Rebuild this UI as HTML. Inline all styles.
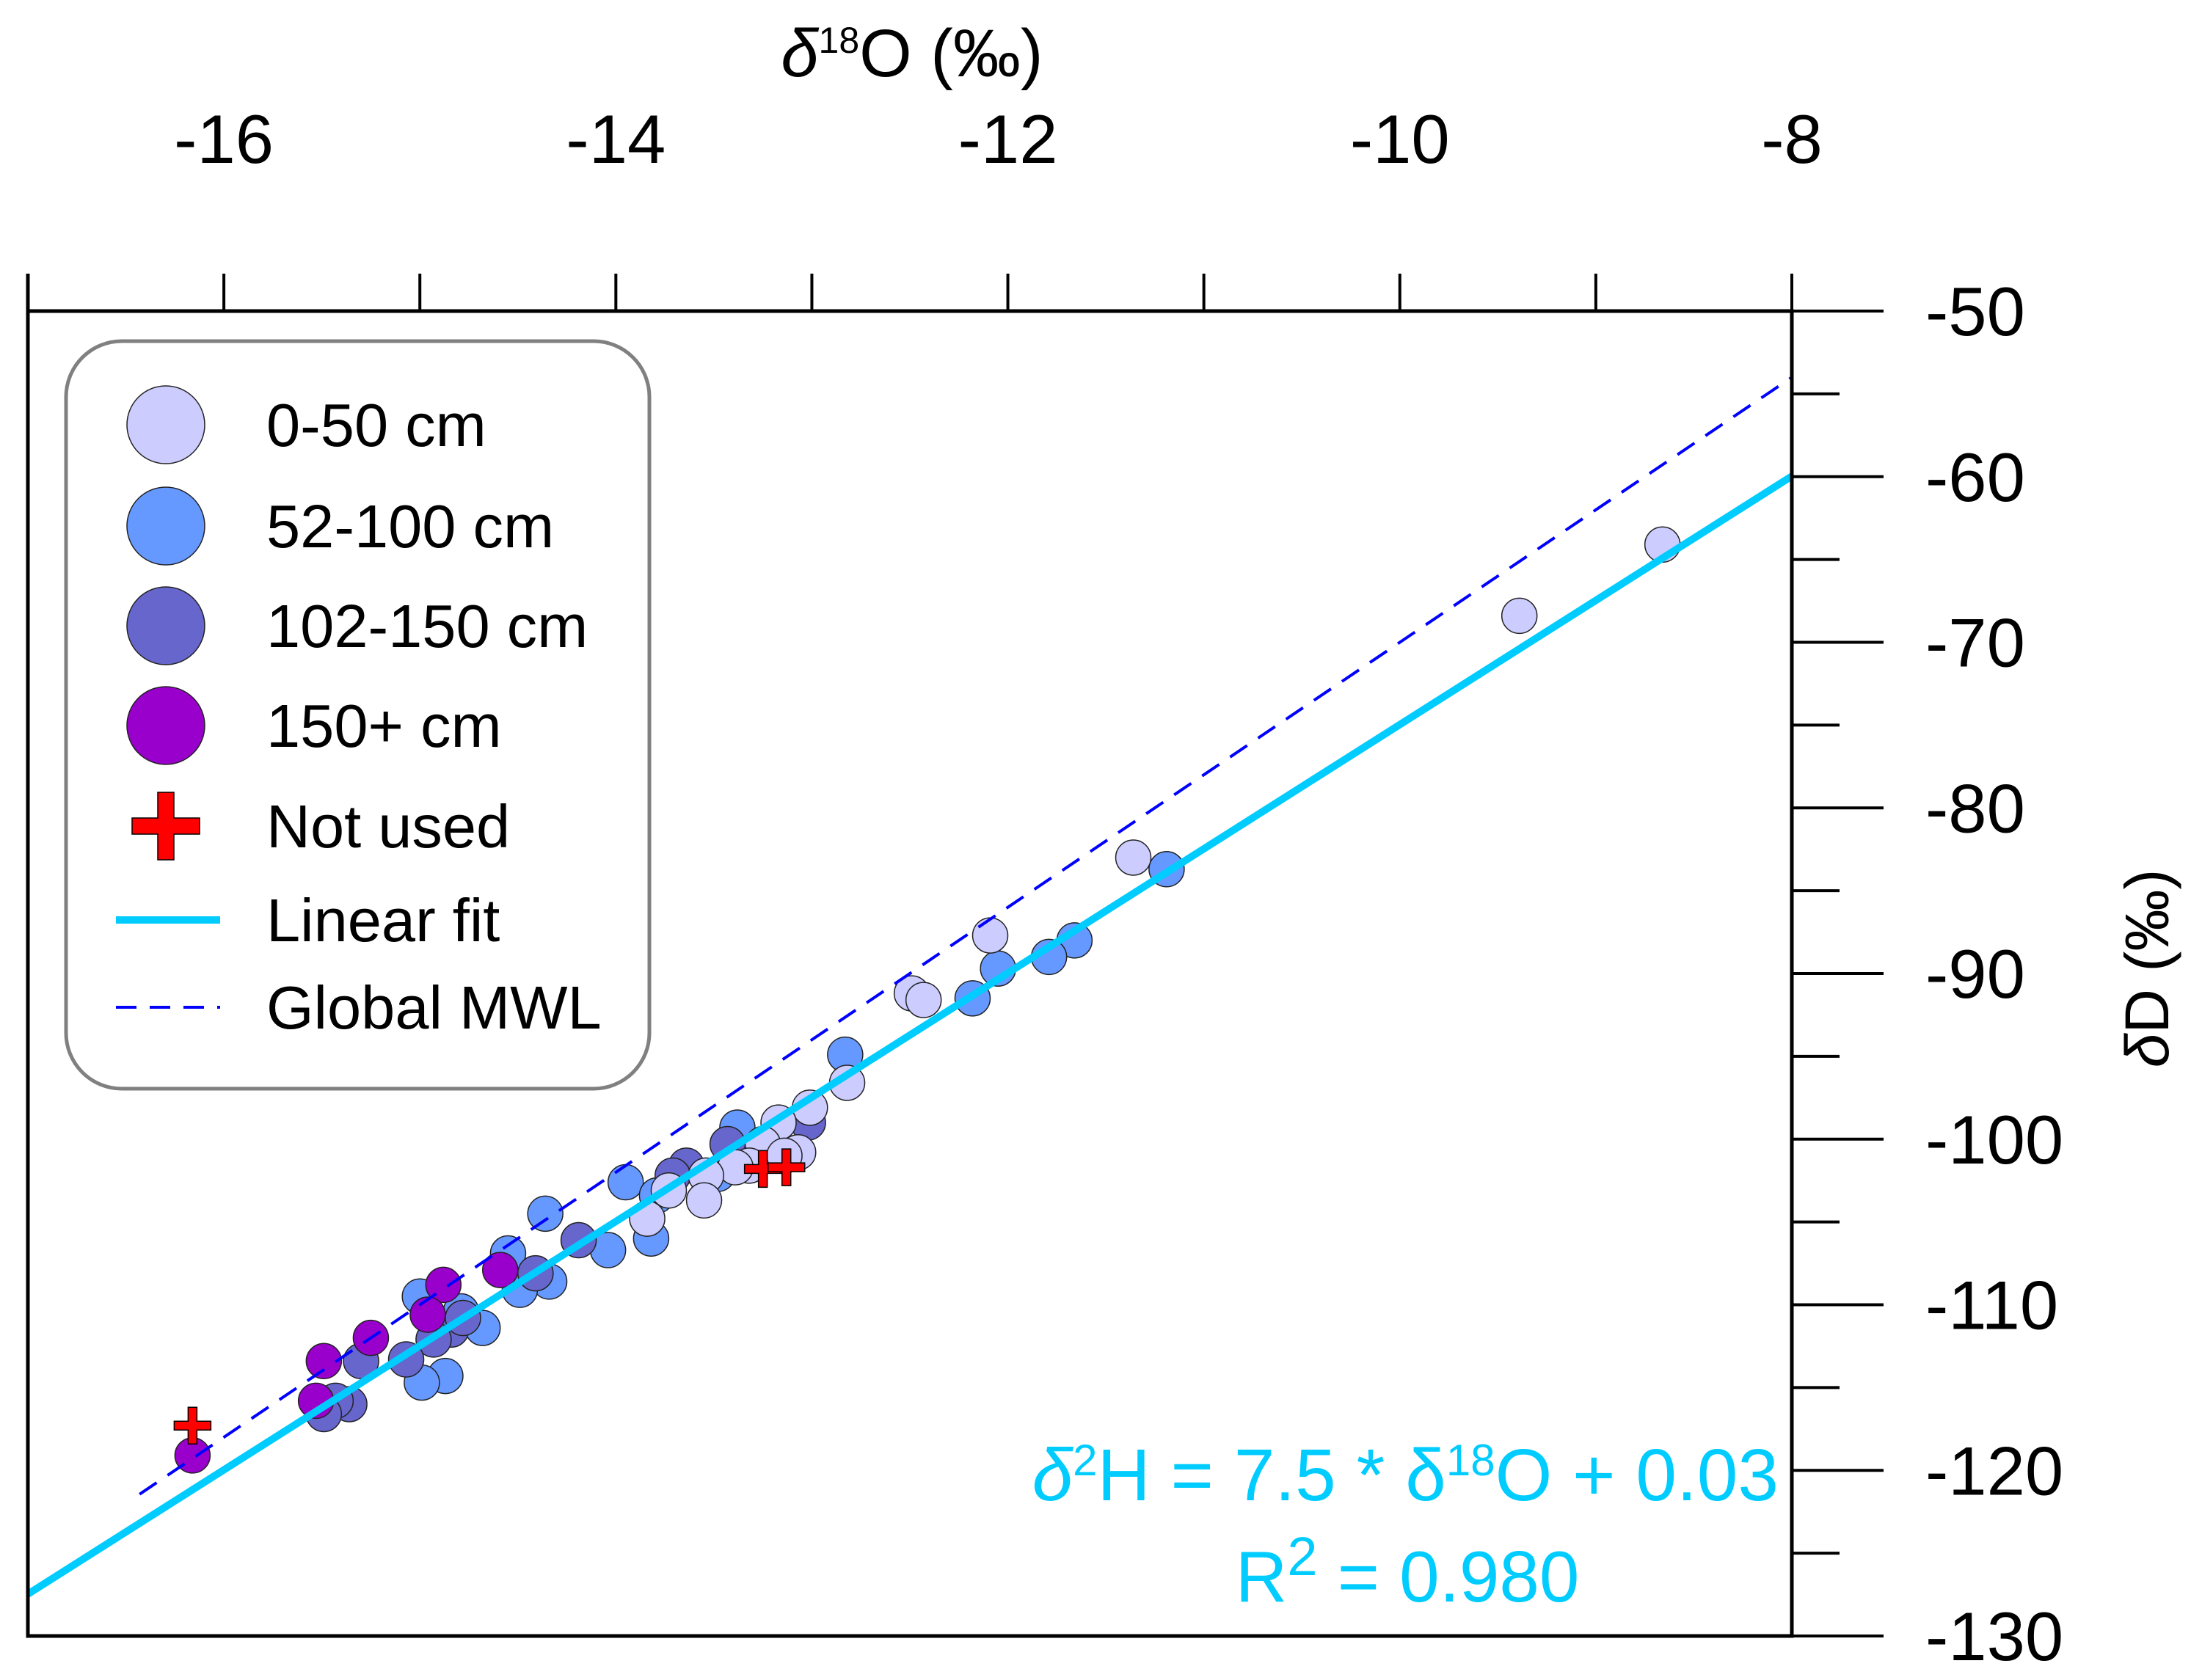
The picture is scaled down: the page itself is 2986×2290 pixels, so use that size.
<!DOCTYPE html>
<html><head><meta charset="utf-8"><style>
html,body{margin:0;padding:0;background:#fff}
svg{display:block}
text{font-family:"Liberation Sans",sans-serif}
</style></head><body>
<svg id="chart" width="2986" height="2290" viewBox="0 0 2986 2290" xmlns="http://www.w3.org/2000/svg">
<g id="points"></g>
<g id="lines"></g>
<g id="crosses"></g>
<g id="axes"></g>
<g id="legend">
  <rect x="90" y="465" width="795" height="1019" rx="76" ry="76" fill="#fff" stroke="#808080" stroke-width="5"/>
</g>
<text x="2424" y="2045" text-anchor="end" font-size="100" fill="#00ccff"><tspan font-style="italic">δ</tspan><tspan font-size="60" dy="-34">2</tspan><tspan dy="34">H = 7.5 * δ</tspan><tspan font-size="60" dy="-34">18</tspan><tspan dy="34">O + 0.03</tspan></text>
<text x="1918" y="2183" text-anchor="middle" font-size="98" fill="#00ccff">R<tspan font-size="74" dy="-36">2</tspan><tspan dy="36"> = 0.980</tspan></text>
<text x="1243" y="104" text-anchor="middle" font-size="92"><tspan font-style="italic">δ</tspan><tspan font-size="50" dy="-32">18</tspan><tspan dy="32">O (‰)</tspan></text>
<text transform="translate(2955,1320) rotate(-90)" text-anchor="middle" font-size="84"><tspan font-style="italic">δ</tspan>D (‰)</text>
</svg>
<script>
const xTicks=[-16,-14,-12,-10,-8];
const yTicks=[-50,-60,-70,-80,-90,-100,-110,-120,-130];
const lightX=[-8.66,-9.39,-11.36,-12.09,-12.49,-12.43,-12.82,-13.01,-13.17,-13.25,-13.32,-13.39,-13.54,-13.73,-13.55,-13.84,-13.07,-13.14];
const lightY=[-64.1,-68.4,-83.0,-87.7,-91.2,-91.6,-96.6,-98.1,-99.0,-100.3,-101.6,-101.7,-102.2,-103.1,-103.7,-104.8,-100.8,-101.0];
const medX=[-11.19,-11.66,-11.79,-12.05,-12.18,-12.83,-13.38,-13.95,-14.36,-13.82,-14.04,-14.55,-14.34,-14.49,-15.0,-14.79,-14.68,-14.87,-14.99,-13.79,-13.48];
const medY=[-83.7,-88.0,-89.0,-89.7,-91.5,-94.9,-99.3,-102.6,-104.5,-106.0,-106.7,-106.9,-108.6,-109.1,-109.5,-110.4,-111.4,-114.3,-114.7,-103.4,-102.1];
const darkX=[-13.02,-13.43,-13.64,-13.71,-14.19,-14.41,-14.84,-14.93,-15.07,-15.3,-15.36,-15.43,-15.49,-14.78];
const darkY=[-99.0,-100.3,-101.6,-102.2,-106.1,-108.1,-111.5,-112.1,-113.3,-113.4,-116.0,-115.8,-116.6,-110.8];
const purpX=[-16.16,-15.49,-15.25,-15.53,-14.88,-14.96,-14.59];
const purpY=[-119.1,-113.4,-112.0,-115.8,-108.8,-110.6,-107.9];
const crossX=[-16.16,-13.25,-13.13];
const crossY=[-117.3,-101.8,-101.7];
const fitSlope=7.5, fitIntercept=0.03;
const mwlSlope=8, mwlIntercept=10;

const NS="http://www.w3.org/2000/svg";
const X0=-17,X1=-8,PX0=38,PX1=2442;
const Y0=-130,Y1=-50,PY0=2230,PY1=424;
function sx(v){return PX0+(v-X0)/(X1-X0)*(PX1-PX0);}
function sy(v){return PY0+(v-Y0)/(Y1-Y0)*(PY1-PY0);}
function mk(tag,attrs,parent){const e=document.createElementNS(NS,tag);for(const k in attrs)e.setAttribute(k,attrs[k]);parent.appendChild(e);return e;}

const pts=document.getElementById('points');
function series(xs,ys,color,name){
  for(let i=0;i<xs.length;i++){
    const c=mk('circle',{cx:sx(xs[i]),cy:sy(ys[i]),r:24,fill:color,stroke:'#222','stroke-width':1.5},pts);
    
    
  }
}
series(medX,medY,'#6699ff','point-52-100cm');
series(darkX,darkY,'#6666cc','point-102-150cm');
series(purpX,purpY,'#9900cc','point-150plus-cm');
series(lightX,lightY,'#ccccff','point-0-50cm');

const ln=document.getElementById('lines');
const mx0=-16.43;
const mwl=mk('line',{x1:sx(mx0),y1:sy(mwlSlope*mx0+mwlIntercept),x2:sx(-8),y2:sy(mwlSlope*-8+mwlIntercept),stroke:'#0000ff','stroke-width':4,'stroke-dasharray':'28 18'},ln);


const fit=mk('line',{x1:sx(-17),y1:sy(fitSlope*-17+fitIntercept),x2:sx(-8),y2:sy(fitSlope*-8+fitIntercept),stroke:'#00ccff','stroke-width':10},ln);



function cross(g,cx,cy,L,T){
  const d=`M${cx-T/2},${cy-L/2}h${T}v${L/2-T/2}h${L/2-T/2}v${T}h${-(L/2-T/2)}v${L/2-T/2}h${-T}v${-(L/2-T/2)}h${-(L/2-T/2)}v${-T}h${L/2-T/2}z`;
  return mk('path',{d:d,fill:'#ff0000',stroke:'#000','stroke-width':1.5},g);
}
const cg=document.getElementById('crosses');
for(let i=0;i<crossX.length;i++){
  const p=cross(cg,sx(crossX[i]),sy(crossY[i]),50,12);
  
  
}

const ax=document.getElementById('axes');
mk('rect',{x:PX0,y:PY1,width:PX1-PX0,height:PY0-PY1,fill:'none',stroke:'#000','stroke-width':5},ax);
mk('line',{x1:PX0,y1:373,x2:PX0,y2:PY1,stroke:'#000','stroke-width':5},ax);
for(let v=-16;v<=-8;v++){
  mk('line',{x1:sx(v),y1:PY1,x2:sx(v),y2:PY1-51,stroke:'#000','stroke-width':4},ax);
}
for(const v of xTicks){
  const t=mk('text',{x:sx(v),y:222,'text-anchor':'middle','font-size':94},ax);
  t.textContent=String(v);
  
  
}
for(let v=-130;v<=-50;v+=5){
  const major=(v%10===0);
  mk('line',{x1:PX1,y1:sy(v),x2:PX1+(major?125:65),y2:sy(v),stroke:'#000','stroke-width':4},ax);
}
for(const v of yTicks){
  const t=mk('text',{x:2624,y:sy(v)+33,'font-size':94},ax);
  t.textContent=String(v);
  
  
}

const lg=document.getElementById('legend');
const legNames=['0-50 cm','52-100 cm','102-150 cm','150+ cm','Not used','Linear fit','Global MWL'];
const legColors=['#ccccff','#6699ff','#6666cc','#9900cc'];
const legY=[579,717,853,989,1126,1254,1373];
for(let i=0;i<legNames.length;i++){
  const y=legY[i];
  if(i<4){
    const c=mk('circle',{cx:226,cy:y,r:53,fill:legColors[i],stroke:'#222','stroke-width':1.5},lg);
    
    
  } else if(i===4){
    const p=cross(lg,226,y,92,22);
    
    
  } else if(i===5){
    mk('line',{x1:158,y1:y,x2:300,y2:y,stroke:'#00ccff','stroke-width':10},lg);
  } else {
    mk('line',{x1:158,y1:y,x2:300,y2:y,stroke:'#0000ff','stroke-width':4,'stroke-dasharray':'28 18'},lg);
  }
  const t=mk('text',{x:363,y:y+29,'font-size':83},lg);
  t.textContent=legNames[i];
  
  
}
</script>
</body></html>
